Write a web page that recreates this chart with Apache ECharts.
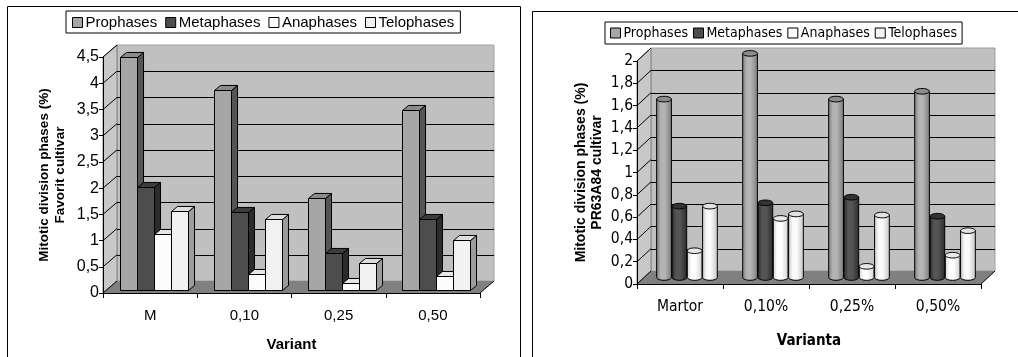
<!DOCTYPE html>
<html><head><meta charset="utf-8">
<script src="https://cdn.jsdelivr.net/npm/echarts@6/dist/echarts.min.js"></script>
<style>html,body{margin:0;padding:0;background:#fff}#c{width:1018px;height:357px}</style>
</head><body><div id="c"></div><script>
// ---- data ----
const seriesNames = ['Prophases', 'Metaphases', 'Anaphases', 'Telophases'];
const leftCategories = ['M', '0,10', '0,25', '0,50'];
const leftProphases = [4.45, 3.82, 1.75, 3.44];
const leftMetaphases = [1.97, 1.49, 0.70, 1.35];
const leftAnaphases = [1.07, 0.30, 0.14, 0.27];
const leftTelophases = [1.51, 1.35, 0.51, 0.95];
const leftTicks = [0, 0.5, 1, 1.5, 2, 2.5, 3, 3.5, 4, 4.5];
const rightCategories = ['Martor', '0,10%', '0,25%', '0,50%'];
const rightProphases = [1.60, 2.01, 1.60, 1.67];
const rightMetaphases = [0.64, 0.67, 0.72, 0.55];
const rightAnaphases = [0.24, 0.53, 0.10, 0.20];
const rightTelophases = [0.64, 0.57, 0.56, 0.42];
const rightTicks = [0, 0.2, 0.4, 0.6, 0.8, 1, 1.2, 1.4, 1.6, 1.8, 2];
const leftTitleY = 'Mitotic division phases (%)\nFavorit cultivar';
const rightTitleY = 'Mitotic division phases (%)\nPR63A84 cultivar';

// ---- styles ----
const faceColors = ['#a6a6a6', '#4d4d4d', '#fcfcfc', '#f2f2f2'];
const sideColors = ['#555555', '#2b2b2b', '#b0b0b0', '#9c9c9c'];
const topColors = ['#8a8a8a', '#3c3c3c', '#e6e6e6', '#dedede'];
const cylLight = ['#b4b4b4', '#555555', '#ffffff', '#fafafa'];
const cylDark = ['#7a7a7a', '#2a2a2a', '#cfcfcf', '#c4c4c4'];
const cylTop = ['#8c8c8c', '#333333', '#e8e8e8', '#e2e2e2'];
const DL = {dx: 14, dy: -12};
const DR = {dx: 14, dy: -13};
const LEFT_FONT = 'Liberation Sans, Arial, sans-serif';
const NARROW_FONT = '"DejaVu Sans Condensed", "Liberation Sans Narrow", "Arial Narrow", sans-serif';

function r5(v) { return Math.round(v) + 0.5; }

function wallsRender(ticks, D) {
  return function (params, api) {
    const cs = params.coordSys;
    const x0 = cs.x, x1 = cs.x + cs.width;
    const yb = api.coord([0, ticks[0]])[1];
    const yt = api.coord([0, ticks[ticks.length - 1]])[1];
    const ch = [];
    ch.push({type: 'polygon', shape: {points: [[x0 + D.dx, yt + D.dy], [x1 + D.dx, yt + D.dy], [x1 + D.dx, yb + D.dy], [x0 + D.dx, yb + D.dy]]},
      style: {fill: '#c0c0c0', stroke: '#a0a0a0', lineWidth: 1}});
    ch.push({type: 'polygon', shape: {points: [[x0, yt], [x0 + D.dx, yt + D.dy], [x0 + D.dx, yb + D.dy], [x0, yb]]},
      style: {fill: '#c8c8c8', stroke: '#808080', lineWidth: 1}});
    ch.push({type: 'polygon', shape: {points: [[x0, yb], [x0 + D.dx, yb + D.dy], [x1 + D.dx, yb + D.dy], [x1, yb]]},
      style: {fill: '#808080', stroke: null}});
    ch.push({type: 'line', shape: {x1: x1, y1: yb, x2: x1 + D.dx, y2: yb + D.dy}, style: {stroke: '#000', lineWidth: 1}});
    ticks.forEach(function (t, i) {
      const y = api.coord([0, t])[1];
      if (i > 0 && i < ticks.length - 1) {
        ch.push({type: 'line', shape: {x1: x0 + D.dx, y1: r5(y + D.dy), x2: x1 + D.dx, y2: r5(y + D.dy)}, style: {stroke: '#000', lineWidth: 1}});
      }
      ch.push({type: 'line', shape: {x1: x0, y1: y, x2: x0 + D.dx, y2: y + D.dy}, style: {stroke: '#000', lineWidth: 1}});
    });
    return {type: 'group', children: ch};
  };
}

function boxRender(k, D) {
  return function (params, api) {
    const idx = api.value(0), v = api.value(1);
    const top = api.coord([idx, v]);
    const base = api.coord([idx, 0]);
    const band = api.size([1, 0])[0];
    const w = band * 0.18;
    const ox = D.dx * 0.25, oy = D.dy * 0.25;
    const bx = D.dx * 0.43, by = D.dy * 0.42;
    const xl = Math.round(top[0] - 2 * w + k * w + ox) + 0.5;
    const xr = Math.round(top[0] - 2 * w + (k + 1) * w + ox) + 0.5;
    const yt = Math.round(top[1] + oy) + 0.5;
    const yb = Math.round(base[1] + oy) + 0.5;
    const st = {stroke: '#000', lineWidth: 1};
    return {type: 'group', children: [
      {type: 'polygon', shape: {points: [[xr, yt], [xr + bx, yt + by], [xr + bx, yb + by], [xr, yb]]}, style: Object.assign({fill: sideColors[k]}, st)},
      {type: 'polygon', shape: {points: [[xl, yt], [xl + bx, yt + by], [xr + bx, yt + by], [xr, yt]]}, style: Object.assign({fill: topColors[k]}, st)},
      {type: 'rect', shape: {x: xl, y: yt, width: xr - xl, height: yb - yt}, style: Object.assign({fill: faceColors[k]}, st)}
    ]};
  };
}

function cylRender(k, D) {
  return function (params, api) {
    const idx = api.value(0), v = api.value(1);
    const top = api.coord([idx, v]);
    const base = api.coord([idx, 0]);
    const band = api.size([1, 0])[0];
    const w = band * 0.178;
    const ox = D.dx * 0.5, oy = D.dy * 0.5;
    const cx = top[0] - 2 * w + (k + 0.5) * w + ox;
    const rx = w / 2 - 0.3, ry = 2.8;
    const yt = top[1] + oy, yb = base[1] + oy;
    const l = cx - rx, r = cx + rx;
    const grad = {type: 'linear', x: 0, y: 0, x2: 1, y2: 0, colorStops: [
      {offset: 0, color: cylDark[k]}, {offset: 0.3, color: cylLight[k]}, {offset: 0.55, color: cylLight[k]}, {offset: 1, color: cylDark[k]}]};
    const path = 'M' + l + ' ' + yt + ' L' + l + ' ' + yb + ' A' + rx + ' ' + ry + ' 0 0 0 ' + r + ' ' + yb + ' L' + r + ' ' + yt + ' Z';
    return {type: 'group', children: [
      {type: 'path', shape: {pathData: path}, style: {fill: grad, stroke: '#000', lineWidth: 1}},
      {type: 'ellipse', shape: {cx: cx, cy: yt, rx: rx, ry: ry}, style: {fill: cylTop[k], stroke: '#000', lineWidth: 1}}
    ]};
  };
}

function toData(arr) { return arr.map(function (v, i) { return [i, v]; }); }
const comma = function (v) { return String(v).replace('.', ','); };

const leftSets = [leftProphases, leftMetaphases, leftAnaphases, leftTelophases];
const rightSets = [rightProphases, rightMetaphases, rightAnaphases, rightTelophases];

const series = [
  {type: 'custom', xAxisIndex: 0, yAxisIndex: 0, renderItem: wallsRender(leftTicks, DL), data: [[0, 0]], silent: true, z: 1},
  {type: 'custom', xAxisIndex: 1, yAxisIndex: 1, renderItem: wallsRender(rightTicks, DR), data: [[0, 0]], silent: true, z: 1}
];
seriesNames.forEach(function (n, k) {
  series.push({type: 'custom', name: n, xAxisIndex: 0, yAxisIndex: 0, z: 2 + k, renderItem: boxRender(k, DL),
    itemStyle: {color: faceColors[k]}, data: toData(leftSets[k])});
});
seriesNames.forEach(function (n, k) {
  series.push({type: 'custom', name: n, xAxisIndex: 1, yAxisIndex: 1, z: 2 + k, renderItem: cylRender(k, DR),
    itemStyle: {color: faceColors[k]}, data: toData(rightSets[k])});
});

function yAxisOpt(gi, ticks, name, font, fs, gap, nfs) {
  return {type: 'value', gridIndex: gi, min: ticks[0], max: ticks[ticks.length - 1], interval: ticks[1] - ticks[0], z: 10,
    axisLine: {show: true, lineStyle: {color: '#000', width: 1}},
    axisTick: {show: true, length: 4, lineStyle: {color: '#000'}},
    axisLabel: {color: '#000', fontFamily: font, fontSize: fs, margin: 4, formatter: comma},
    splitLine: {show: false},
    name: name, nameLocation: 'middle', nameRotate: 90, nameGap: gap,
    nameTextStyle: {color: '#000', fontFamily: LEFT_FONT, fontWeight: 'bold', fontSize: nfs, lineHeight: 16, align: 'center'}};
}
function xAxisOpt(gi, cats, name, font, fs, margin, gap) {
  return {type: 'category', gridIndex: gi, data: cats, z: 10,
    axisLine: {show: true, lineStyle: {color: '#000', width: 1}},
    axisTick: {show: true, length: 5, lineStyle: {color: '#000'}},
    axisLabel: {color: '#000', fontFamily: font, fontSize: fs, margin: margin},
    name: name, nameLocation: 'middle', nameGap: gap,
    nameTextStyle: {color: '#000', fontFamily: font, fontWeight: 'bold', fontSize: 15}};
}

const legendCommon = {
  orient: 'horizontal', icon: 'rect', itemWidth: 10, itemHeight: 10,
  borderColor: '#000', borderWidth: 1, backgroundColor: '#fff',
  itemStyle: {borderColor: '#000', borderWidth: 1},
  data: seriesNames, selectedMode: false
};

const option = {
  animation: false,
  backgroundColor: '#fff',
  grid: [
    {left: 103, top: 57, width: 377, height: 236, outerBoundsMode: 'none'},
    {left: 637, top: 61, width: 344, height: 223, outerBoundsMode: 'none'}
  ],
  legend: [
    Object.assign({}, legendCommon, {left: 66, top: 11, padding: [4, 6, 3, 6], itemGap: 8,
      textStyle: {color: '#000', fontFamily: LEFT_FONT, fontSize: 15, padding: [0, 0, 0, -2]}}),
    Object.assign({}, legendCommon, {left: 605, top: 22, padding: [4, 5, 4, 5], itemGap: 5,
      textStyle: {color: '#000', fontFamily: NARROW_FONT, fontSize: 14, padding: [0, 0, 0, -2]}})
  ],
  xAxis: [
    xAxisOpt(0, leftCategories, 'Variant', LEFT_FONT, 15, 15, 44),
    xAxisOpt(1, rightCategories, 'Varianta', NARROW_FONT, 15.5, 15, 50)
  ],
  yAxis: [
    yAxisOpt(0, leftTicks, leftTitleY, LEFT_FONT, 16, 35, 13.5),
    yAxisOpt(1, rightTicks, rightTitleY, NARROW_FONT, 15.5, 32, 14)
  ],
  graphic: [
    {type: 'rect', shape: {x: 7.5, y: 6.5, width: 513, height: 400}, style: {fill: 'none', stroke: '#000', lineWidth: 1}, z: 100},
    {type: 'rect', shape: {x: 532.5, y: 11.5, width: 520, height: 400}, style: {fill: 'none', stroke: '#000', lineWidth: 1}, z: 100}
  ],
  series: series
};

const chart = echarts.init(document.getElementById('c'), null, {renderer: 'canvas'});
chart.setOption(option);
</script></body></html>
